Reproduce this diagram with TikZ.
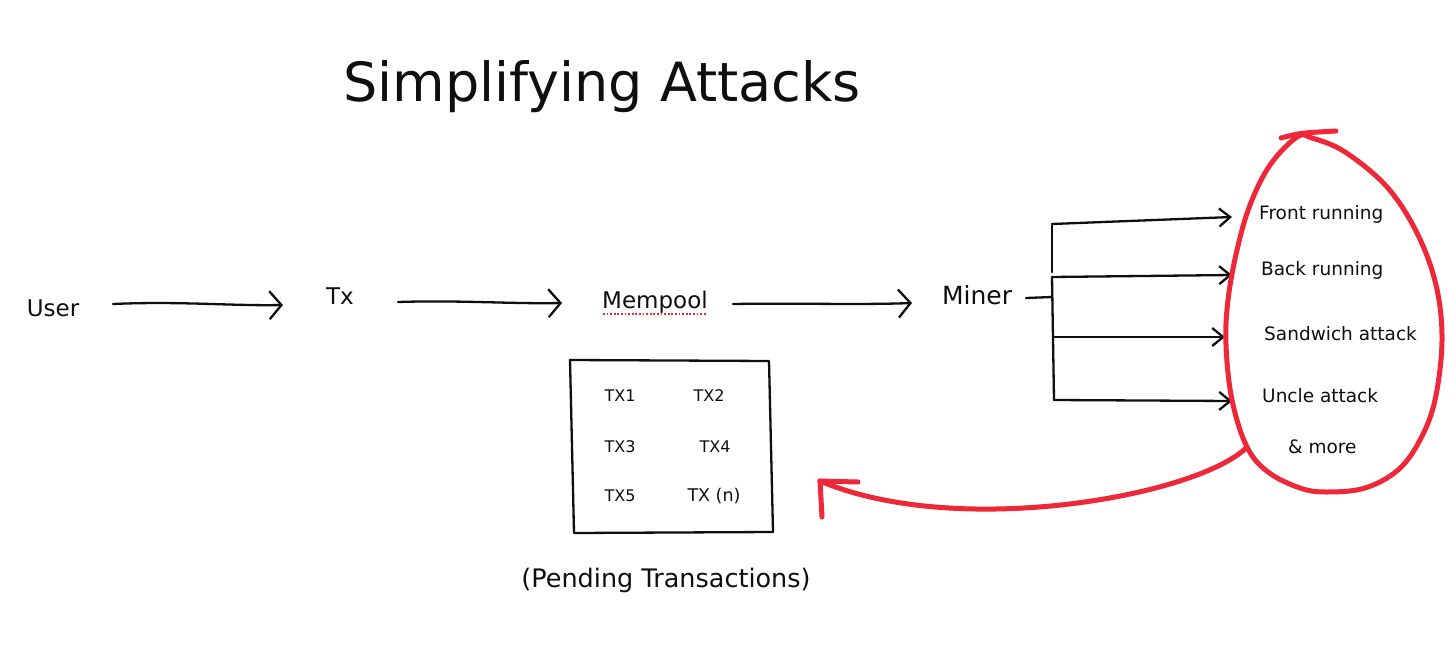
\documentclass[tikz,border=0pt]{standalone}
\usepackage{fontspec}
\setmainfont{DejaVu Sans}
\usetikzlibrary{arrows.meta}
\definecolor{ink}{RGB}{15,15,15}
\definecolor{marker}{RGB}{238,40,56}
\tikzset{
  lbl/.style={inner sep=0pt, text=ink, font=\fontsize{23}{27}\selectfont},
  side/.style={inner sep=0pt, text=ink, font=\fontsize{18.5}{22}\selectfont, anchor=west},
  txl/.style={inner sep=0pt, text=ink, font=\fontsize{16}{19}\selectfont},
  flow/.style={draw=ink, line width=2.3pt, line cap=round, line join=round,
    -{Straight Barb[length=12pt,width=28pt,line width=2.3pt]}},
  branch/.style={draw=ink, line width=2.3pt, line cap=round, line join=round,
    -{Straight Barb[length=11pt,width=18pt,line width=2.3pt]}},
  wire/.style={draw=ink, line width=2.3pt, line cap=round, line join=round},
  redpen/.style={draw=marker, line width=5pt, line cap=round, line join=round}
}
\begin{document}
\begin{tikzpicture}[x=1pt,y=-1pt]
\useasboundingbox[fill=white] (0,0) rectangle (1456,671);

% title
\node[inner sep=0pt, text=ink, font=\fontsize{54}{62}\selectfont] (title) at (602,87) {Simplifying Attacks};

% main flow labels
\node[lbl] (user) at (53,308) {User};
\node[lbl] (tx) at (340,296) {Tx};
\node[lbl] (mempool) at (655,302) {Mempool};
\node[lbl, font=\fontsize{25}{29}\selectfont] (miner) at (977,295) {Miner};
\draw[draw=marker, line width=1.8pt, dash pattern=on 1.8pt off 1.8pt] (603,314) -- (706,314);

% main flow arrows
\coordinate (a1s) at (113,304); \coordinate (a1e) at (283,305);
\coordinate (a2s) at (398,302); \coordinate (a2e) at (562,303);
\coordinate (a3s) at (733,304); \coordinate (a3e) at (912,303);
\draw[flow] (a1s) .. controls (180,301) and (230,306) .. (a1e);
\draw[flow] (a2s) .. controls (460,300) and (510,304) .. (a2e);
\draw[flow] (a3s) .. controls (800,303) and (860,305) .. (a3e);

% miner fan-out
\coordinate (mo) at (1026,298);
\coordinate (bt) at (1052,224);
\coordinate (bm) at (1052,297);
\coordinate (bb) at (1054,400);
\coordinate (b2) at (1052,277);
\coordinate (b3) at (1053,337);
\draw[wire] (mo) -- (bm);
\draw[wire] (bt) -- (1052,272);
\draw[wire] (b2) -- (bb);

% attack labels
\node[side] (front) at (1259,214) {Front running};
\node[side] (back) at (1261,270) {Back running};
\node[side] (sand) at (1264,334) {Sandwich attack};
\node[side] (uncle) at (1262,396) {Uncle attack};
\node[side] (more) at (1288,447) {\& more};

\coordinate (e1) at (1232,217);
\coordinate (e2) at (1232,275);
\coordinate (e3) at (1225,337);
\coordinate (e4) at (1232,401);
\draw[branch] (bt) -- (e1);
\draw[branch] (b2) -- (e2);
\draw[branch] (b3) -- (e3);
\draw[branch] (bb) -- (e4);

% pending box
\coordinate (p1) at (570,360);
\coordinate (p2) at (769,361);
\coordinate (p3) at (773,532);
\coordinate (p4) at (574,533);
\draw[wire] (p1) -- (p2) -- (p3) -- (p4) -- cycle;
\node[txl] (t1) at (620,396) {TX1};
\node[txl] (t2) at (709,396) {TX2};
\node[txl] (t3) at (620,447) {TX3};
\node[txl] (t4) at (715,447) {TX4};
\node[txl] (t5) at (620,496) {TX5};
\node[txl, font=\fontsize{17.5}{21}\selectfont] (tn) at (714,496) {TX (n)};
\node[lbl, font=\fontsize{25.5}{30}\selectfont] (pending) at (666,580) {(Pending Transactions)};

% red loop
\draw[redpen] plot[smooth cycle, tension=0.6] coordinates {
 (1297,137) (1270,165) (1250,205) (1237,250) (1228,300) (1226,345)
 (1232,400) (1247,447) (1268,472) (1300,488) (1327,492) (1365,488)
 (1398,470) (1420,440) (1435,400) (1442,340) (1436,285) (1417,233)
 (1387,187) (1345,152) (1312,138)};
\coordinate (flickA) at (1281,138);
\coordinate (flickB) at (1336,131);
\draw[redpen] (flickA) .. controls (1300,133) .. (flickB);

% red return arrow
\coordinate (ts) at (1247,447);
\coordinate (tip) at (820,481);
\coordinate (armA) at (858,482);
\coordinate (armB) at (822,517);
\draw[redpen] (ts) .. controls (1200,495) and (960,540) .. (tip);
\draw[redpen] (armA) -- (tip) -- (armB);
\end{tikzpicture}
\end{document}
